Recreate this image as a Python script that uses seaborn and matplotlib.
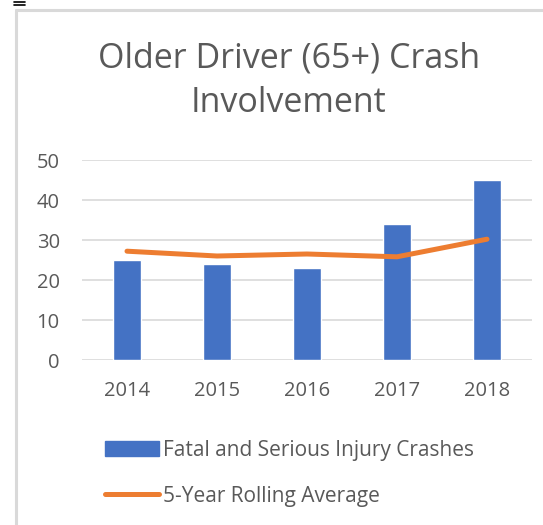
import pandas as pd
import seaborn as sns
import matplotlib.pyplot as plt
from matplotlib.lines import Line2D

# data
years = ["2014", "2015", "2016", "2017", "2018"]
crashes = [25, 24, 23, 34, 45]
rolling_avg = [27.2, 26.0, 26.5, 25.8, 30.2]

df = pd.DataFrame({"year": years, "crashes": crashes, "avg": rolling_avg})

sns.set_style("white")
plt.rcParams['font.family'] = ['Open Sans', 'DejaVu Sans']

grey_txt = "#595959"
bar_col = "#4472C4"
line_col = "#ED7D31"

fig = plt.figure(figsize=(5.43, 5.25), dpi=100)
ax = fig.add_axes([82 / 543, 1 - 360 / 525, 450 / 543, 200 / 525])

sns.barplot(data=df, x="year", y="crashes", color=bar_col, width=0.31,
            saturation=1, ax=ax, zorder=3, label="Fatal and Serious Injury Crashes")
sns.lineplot(data=df, x="year", y="avg", color=line_col, linewidth=3.6,
             ax=ax, zorder=4, label="5-Year Rolling Average",
             solid_capstyle="round")

ax.set_ylim(0, 50)
ax.set_xlim(-0.5, 4.5)
ax.set_yticks(range(0, 51, 10))
ax.yaxis.grid(True, color="#d9d9d9", linewidth=1.2, zorder=0)
ax.set_axisbelow(True)
for s in ax.spines.values():
    s.set_visible(False)
ax.set_xlabel("")
ax.set_ylabel("")
ax.tick_params(axis="y", length=0, pad=16, labelsize=14.5, labelcolor=grey_txt)
ax.tick_params(axis="x", length=0, pad=15, labelsize=14.5, labelcolor=grey_txt)

if ax.legend_:
    ax.legend_.remove()
handles = [plt.Rectangle((0, 0), 1, 1, color=bar_col),
           Line2D([0], [0], color=line_col, linewidth=3.6, solid_capstyle="round")]
labels = ["Fatal and Serious Injury Crashes", "5-Year Rolling Average"]
fig.legend(handles, labels, loc="upper left", bbox_to_anchor=(86 / 543, 1 - 421 / 525),
           frameon=False, fontsize=15, labelcolor=grey_txt, handlelength=2.6,
           handleheight=0.75, handletextpad=0.2, labelspacing=1.2)

fig.text(289 / 543, 1 - 81 / 525, "Older Driver (65+) Crash\nInvolvement",
         ha="center", va="center", fontsize=24.5, color=grey_txt, linespacing=1.4)

# outer chart frame
fig.add_artist(Line2D([16 / 543, 16 / 543], [0, 1 - 10 / 525], color="#d9d9d9", linewidth=2.2))
fig.add_artist(Line2D([16 / 543, 1], [1 - 10 / 525, 1 - 10 / 525], color="#d9d9d9", linewidth=2.2))
fig.add_artist(Line2D([14 / 543, 25 / 543], [1 - 1.5 / 525, 1 - 1.5 / 525], color="black", linewidth=1.2))
fig.add_artist(Line2D([14 / 543, 25 / 543], [1 - 4.5 / 525, 1 - 4.5 / 525], color="black", linewidth=1.2))

fig.savefig("out.png", dpi=100, facecolor="white")
